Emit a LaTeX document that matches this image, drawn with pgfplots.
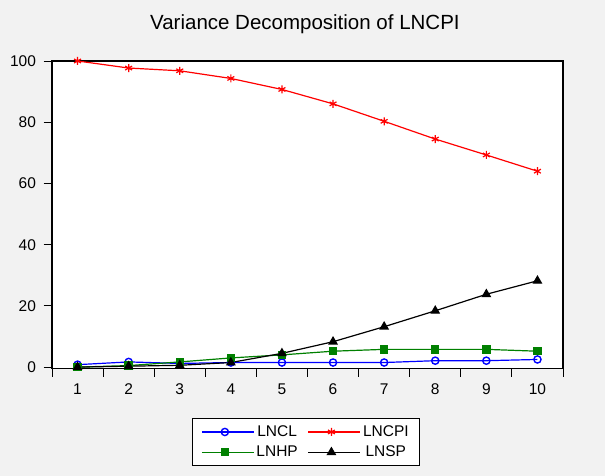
\documentclass[border=0pt]{standalone}
\usepackage{pgfplots}
\pgfplotsset{compat=1.18}
\usepackage{fontspec}
\setmainfont{Liberation Sans}
\definecolor{bggray}{HTML}{F2F2F2}
\definecolor{evgreen}{RGB}{0,128,0}
\begin{document}
\begin{tikzpicture}[x=1pt,y=1pt]
\fill[bggray] (0,0) rectangle (605,476);
\begin{axis}[
	at={(52pt,107.5pt)}, anchor=south west,
	scale only axis, width=511pt, height=307.5pt,
	xmin=0.5, xmax=10.5, ymin=-0.45, ymax=100,
	axis background/.style={fill=white},
	axis line style={line width=1.3pt},
	tick align=outside, tick style={black, line width=0.9pt},
	xtick pos=bottom, ytick pos=left,
	major tick length=8.5pt,
	xtick={0.5,1.5,...,10.5}, xticklabels={},
	extra x ticks={1,2,...,10},
	extra x tick labels={1,2,3,4,5,6,7,8,9,10},
	extra x tick style={major tick length=0pt, xticklabel style={yshift=-12pt}},
	ytick={0,20,...,100},
	yticklabel style={xshift=-4pt},
	ticklabel style={font=\fontsize{15.5}{18}\selectfont},
	/pgf/number format/assume math mode=true,
	title={Variance Decomposition of LNCPI},
	title style={at={(0.495,1.10)}, anchor=center, font=\fontsize{20.5}{24}\selectfont},
	legend columns=2,
	legend style={at={(0.497,-0.162)}, anchor=north, draw=black, line width=1pt,
		font=\fontsize{15.5}{18}\selectfont, fill=white,
		/tikz/every even column/.append style={column sep=8pt},
		inner xsep=9pt, inner ysep=5pt, row sep=4pt},
	legend image code/.code={\draw[line width=1.2pt, mark repeat=2, mark phase=2] plot coordinates {(0pt,0pt) (23pt,0pt) (46pt,0pt)};
		\path (46pt,0pt) -- (52pt,0pt);},
]
\addplot[blue, line width=1.2pt, mark=o, mark size=3.6pt, mark options={fill=white, line width=1.4pt}]
	coordinates {(1,0.8) (2,1.7) (3,1.2) (4,1.5) (5,1.5) (6,1.5) (7,1.5) (8,2.1) (9,2.1) (10,2.5)};
\addlegendentry{LNCL}
\addplot[red, line width=1.2pt, mark=asterisk, mark size=4pt, mark options={line width=1.2pt}]
	coordinates {(1,100) (2,97.7) (3,96.8) (4,94.3) (5,90.7) (6,86) (7,80.3) (8,74.5) (9,69.3) (10,64)};
\addlegendentry{LNCPI}
\addplot[evgreen, line width=1.2pt, mark=square*, mark size=3.6pt]
	coordinates {(1,0) (2,0.5) (3,1.7) (4,3.0) (5,4.0) (6,5.2) (7,5.8) (8,5.8) (9,5.8) (10,5.2)};
\addlegendentry{LNHP}
\addplot[black, line width=1.2pt, mark=triangle*, mark size=4.5pt]
	coordinates {(1,0) (2,0.3) (3,0.6) (4,1.5) (5,4.5) (6,8.3) (7,13.2) (8,18.4) (9,23.8) (10,28.2)};
\addlegendentry{LNSP}
\end{axis}
\end{tikzpicture}
\end{document}
